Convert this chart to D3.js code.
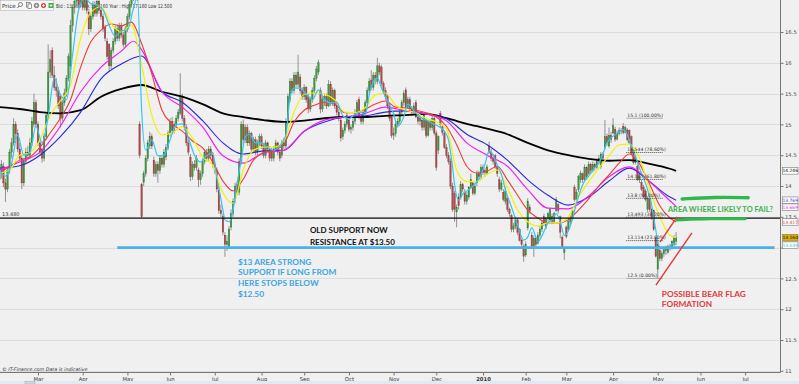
<!DOCTYPE html>
<html><head><meta charset="utf-8">
<script src="https://cdn.jsdelivr.net/npm/d3@7"></script>
<style>
html,body{margin:0;padding:0;background:#f0f0f0;}
svg{display:block;}
</style></head><body>
<svg id="c" width="799" height="384"></svg>
<script>
// ---------------- DATA ----------------
const startDate = "2009-02-03";           // first trading day shown
const monthLabels = ["Mar","Apr","May","Jun","Jul","Aug","Sep","Oct","Nov","Dec","2010","Feb","Mar","Apr","May","Jun","Jul"];
const priceTicks = [11,11.5,12,12.5,13,13.5,14,14.5,15,15.5,16,16.5];
const hiddenTickLabels = [13];            // covered by the value boxes in the original
const infoText = "Bid : 13.160  Ask : 13.160  Year : High 17.180  Low 12.500";

// daily candles [open, high, low, close]
const candles = [
[14.10,14.30,14.00,14.20],[14.20,14.42,14.12,14.35],[14.32,14.38,13.98,14.05],[14.05,14.12,13.74,13.95],[13.95,14.30,13.90,14.25],
[14.25,14.60,14.20,14.55],[14.55,14.78,14.45,14.70],[14.70,15.10,14.65,15.00],[15.00,15.05,14.75,14.85],[14.85,14.92,14.55,14.60],
[14.60,14.70,14.40,14.45],[14.45,14.50,13.95,14.05],[14.05,14.45,14.00,14.40],[14.40,14.62,14.35,14.55],[14.55,14.65,14.42,14.50],
[14.50,14.78,14.45,14.70],[14.70,15.12,14.65,15.05],[15.00,15.50,14.95,15.35],[15.35,15.40,14.95,15.00],[15.00,15.05,14.65,14.70],
[14.70,14.75,14.50,14.55],[14.60,14.62,14.38,14.45],[14.45,14.85,14.40,14.80],[14.80,15.20,14.75,15.15],[15.15,16.30,15.10,15.85],
[15.85,16.20,15.75,16.05],[16.20,16.25,15.75,15.80],[15.80,15.95,15.55,15.60],[15.60,15.75,15.45,15.55],[15.55,15.60,15.25,15.30],
[15.45,15.50,14.95,15.10],[15.10,15.40,15.05,15.35],[15.35,15.58,15.30,15.50],[15.50,15.80,15.45,15.75],[15.75,16.15,15.70,16.10],
[15.95,16.70,15.90,16.60],[16.60,16.95,16.50,16.90],[16.90,17.10,16.80,17.00],[17.00,17.35,16.95,17.20],[17.20,17.25,16.88,16.95],
[16.95,17.18,16.90,17.10],[17.10,17.15,16.85,16.90],[16.90,17.12,16.85,17.05],[17.05,17.08,16.80,16.85],[16.82,16.88,16.45,16.55],
[16.55,16.80,16.50,16.75],[16.75,17.00,16.70,16.95],[16.95,17.00,16.75,16.80],[16.80,17.05,16.75,17.00],[17.00,17.05,16.80,16.85],
[16.85,16.92,16.70,16.75],[16.75,16.80,16.50,16.55],[16.58,16.62,16.35,16.40],[16.35,16.40,16.05,16.10],[16.30,16.32,15.85,15.95],
[15.95,16.25,15.90,16.20],[16.20,16.40,16.15,16.35],[16.35,16.60,16.30,16.55],[16.55,16.62,16.35,16.40],[16.40,16.65,16.35,16.60],
[16.60,16.65,16.40,16.45],[16.45,16.50,16.25,16.30],[16.30,16.60,16.25,16.55],[16.55,16.80,16.50,16.75],[16.75,17.00,16.70,16.95],
[16.95,17.20,16.90,17.15],[17.15,17.22,17.00,17.10],[17.10,17.30,17.05,17.25],[17.25,17.30,17.00,17.05],[15.00,15.05,14.45,14.50],
[14.02,14.05,13.48,13.50],[14.06,14.25,14.00,14.20],[14.20,14.50,14.15,14.45],[14.45,14.75,14.40,14.70],[14.65,14.88,14.60,14.80],
[14.80,14.85,14.60,14.65],[14.42,14.48,14.15,14.20],[14.20,14.40,14.15,14.35],[14.35,14.40,14.05,14.25],[14.25,14.50,14.20,14.45],
[14.45,14.50,14.30,14.35],[14.35,14.60,14.30,14.55],[14.47,14.68,14.42,14.62],[14.62,14.90,14.58,14.85],[14.85,15.10,14.80,15.05],
[15.05,15.12,14.85,14.90],[14.90,15.05,14.85,15.00],[15.00,15.15,14.95,15.10],[15.10,15.25,15.05,15.20],[15.18,15.83,15.15,15.45],
[15.45,15.50,15.05,15.10],[15.10,15.15,14.90,14.95],[14.95,15.00,14.65,14.70],[14.70,14.75,14.50,14.55],[14.47,14.52,14.08,14.15],
[14.15,14.40,14.10,14.35],[14.35,14.42,14.25,14.30],[14.30,14.50,14.25,14.45],[14.26,14.30,13.98,14.10],[14.10,14.25,14.02,14.20],
[14.20,14.45,14.15,14.40],[14.40,14.60,14.35,14.55],[14.55,14.60,14.40,14.45],[14.45,14.65,14.40,14.60],[14.60,14.65,14.45,14.50],
[14.50,14.55,14.30,14.35],[14.35,14.40,14.20,14.25],[14.25,14.30,13.90,13.95],[13.93,13.98,13.55,13.60],[13.60,13.70,13.50,13.55],
[13.50,13.55,13.20,13.25],[13.20,13.25,12.85,13.05],[13.05,13.20,12.95,13.10],[13.02,13.35,12.98,13.30],[13.33,13.62,13.28,13.55],
[13.55,13.80,13.50,13.75],[13.77,14.05,13.72,14.00],[14.02,14.08,13.85,13.90],[13.90,14.45,13.85,14.40],[14.40,15.05,14.35,15.00],
[15.00,15.08,14.68,14.75],[14.75,15.00,14.70,14.95],[14.95,15.00,14.65,14.70],[14.70,14.90,14.65,14.85],[14.85,14.88,14.55,14.60],
[14.60,14.80,14.55,14.75],[14.75,14.80,14.50,14.55],[14.55,14.75,14.50,14.70],[14.70,14.85,14.65,14.80],[14.80,14.85,14.60,14.65],
[14.65,14.70,14.45,14.50],[14.50,14.75,14.45,14.70],[14.70,14.72,14.55,14.60],[14.60,14.65,14.40,14.45],[14.58,14.62,14.40,14.45],
[14.45,14.65,14.40,14.60],[14.60,14.75,14.55,14.70],[14.70,14.72,14.50,14.55],[14.55,14.60,14.40,14.45],[14.50,14.75,14.45,14.70],
[14.70,14.78,14.60,14.65],[14.65,15.10,14.60,15.05],[15.05,15.50,15.00,15.45],[15.40,15.75,15.35,15.70],[15.70,15.75,15.50,15.55],
[15.55,15.85,15.50,15.80],[15.80,15.85,15.60,15.65],[15.65,16.13,15.60,15.85],[15.77,15.82,15.50,15.55],[15.55,15.60,15.40,15.45],
[15.45,15.65,15.40,15.60],[15.60,15.62,15.35,15.40],[15.45,15.50,15.18,15.25],[15.25,15.45,15.20,15.40],[15.40,15.60,15.35,15.55],
[15.55,15.80,15.50,15.75],[15.75,15.95,15.70,15.90],[15.85,16.05,15.80,16.00],[15.55,15.60,15.18,15.25],[15.25,15.45,15.20,15.40],
[15.40,15.50,15.30,15.45],[15.45,15.50,15.25,15.30],[15.30,15.72,15.28,15.65],[15.65,15.70,15.30,15.35],[15.35,15.60,15.30,15.55],
[15.55,15.58,15.25,15.30],[15.30,15.35,15.15,15.20],[15.20,15.25,15.05,15.10],[15.07,15.12,14.72,14.78],[14.80,14.95,14.75,14.90],
[14.90,15.05,14.85,15.00],[15.00,15.20,14.95,15.15],[15.07,15.12,14.88,14.92],[14.92,15.00,14.85,14.95],[14.95,15.10,14.90,15.05],
[15.05,15.25,15.00,15.20],[15.20,15.40,15.15,15.35],[15.40,15.45,15.08,15.12],[15.12,15.15,15.00,15.05],[15.05,15.25,15.00,15.20],
[15.20,15.40,15.15,15.35],[15.35,15.60,15.30,15.55],[15.55,15.75,15.50,15.70],[15.72,15.88,15.55,15.60],[15.60,15.85,15.55,15.80],
[15.80,15.85,15.65,15.75],[15.70,16.08,15.65,15.95],[15.95,16.00,15.80,15.85],[15.93,15.97,15.62,15.67],[15.67,15.70,15.50,15.55],
[15.55,15.60,15.40,15.45],[15.45,15.50,15.25,15.30],[15.30,15.35,15.05,15.10],[15.12,15.15,14.78,14.82],[14.82,14.95,14.75,14.85],
[14.85,15.05,14.80,15.00],[15.00,15.10,14.95,15.05],[15.05,15.25,15.00,15.20],[15.20,15.40,15.15,15.35],[15.35,15.55,15.30,15.50],
[15.56,15.60,15.25,15.28],[15.28,15.45,15.25,15.40],[15.40,15.45,15.20,15.25],[15.25,15.30,15.15,15.20],[15.20,15.35,15.15,15.30],
[15.35,15.40,15.10,15.12],[15.12,15.15,15.00,15.05],[15.05,15.15,14.98,15.10],[15.07,15.10,14.90,14.95],[14.95,15.18,14.90,15.15],
[15.07,15.10,14.78,14.82],[14.82,15.08,14.80,15.05],[15.05,15.08,14.90,14.95],[14.95,15.15,14.90,15.10],[15.10,15.12,14.82,14.86],
[14.86,14.90,14.25,14.30],[14.58,14.82,14.52,14.80],[15.18,15.22,14.95,15.00],[14.96,15.00,14.82,14.87],[14.86,14.90,14.60,14.63],
[14.63,14.68,14.45,14.50],[14.50,14.55,14.35,14.40],[14.40,14.45,13.95,14.00],[14.00,14.05,13.58,13.62],[13.88,13.92,13.42,13.62],
[13.58,13.70,13.33,13.65],[13.82,13.88,13.62,13.68],[13.82,14.08,13.78,14.02],[14.02,14.05,13.90,13.95],[13.90,13.95,13.70,13.75],
[13.75,13.90,13.70,13.85],[13.82,14.00,13.78,13.98],[13.98,14.20,13.95,14.10],[14.05,14.08,13.85,13.88],[13.88,14.05,13.85,14.00],
[14.05,14.25,14.00,14.20],[14.20,14.25,14.10,14.15],[14.15,14.35,14.10,14.30],[14.30,14.35,14.18,14.22],[14.22,14.30,14.15,14.25],
[14.21,14.35,14.18,14.31],[14.65,14.72,14.52,14.55],[14.55,14.60,14.40,14.45],[14.45,14.52,14.35,14.40],[14.49,14.52,14.28,14.31],
[14.31,14.35,14.15,14.20],[14.10,14.15,13.90,13.95],[13.95,14.10,13.92,14.05],[13.90,13.95,13.75,13.78],[13.75,13.98,13.70,13.92],
[13.80,13.85,13.58,13.62],[13.62,13.65,13.50,13.55],[13.52,13.55,13.25,13.30],[13.30,13.40,13.25,13.35],[13.35,13.50,13.30,13.45],
[13.45,13.48,13.20,13.25],[13.30,13.32,13.10,13.12],[13.12,13.15,13.00,13.05],[13.02,13.05,12.77,12.86],[12.88,13.10,12.85,13.05],
[13.32,13.80,13.28,13.75],[13.65,13.70,13.55,13.60],[13.20,13.25,12.98,13.02],[13.02,13.20,12.85,13.15],[13.15,13.18,13.00,13.05],
[13.07,13.25,13.05,13.20],[13.20,13.35,13.15,13.30],[13.30,13.45,13.25,13.40],[13.50,13.55,13.35,13.40],[13.33,13.50,13.30,13.47],
[13.47,13.58,13.42,13.55],[13.45,13.65,13.42,13.62],[13.50,13.55,13.38,13.42],[13.42,13.58,13.40,13.55],[13.60,13.82,13.58,13.78],
[13.70,13.72,13.55,13.60],[13.50,13.52,13.15,13.25],[13.17,13.20,12.98,13.00],[12.92,13.00,12.80,12.97],[13.33,13.36,13.15,13.18],
[13.30,13.48,13.28,13.42],[13.42,13.52,13.38,13.48],[13.48,13.65,13.45,13.60],[13.98,14.02,13.75,13.78],[13.78,13.95,13.75,13.90],
[13.94,14.18,13.90,14.15],[14.10,14.25,14.05,14.20],[14.20,14.22,14.05,14.10],[14.10,14.35,14.08,14.30],[14.30,14.32,14.10,14.15],
[14.20,14.40,14.18,14.35],[14.35,14.38,14.20,14.25],[14.25,14.40,14.22,14.35],[14.35,14.38,14.25,14.30],[14.30,14.45,14.28,14.40],
[14.40,14.50,14.35,14.45],[14.31,14.55,14.28,14.52],[14.52,14.55,14.40,14.45],[14.63,15.07,14.60,14.80],[14.80,14.85,14.65,14.70],
[14.65,14.95,14.62,14.82],[14.82,14.88,14.70,14.75],[14.86,15.10,14.84,14.98],[14.92,14.96,14.72,14.76],[14.76,14.90,14.74,14.85],
[14.85,14.95,14.82,14.90],[14.90,14.94,14.84,14.88],[14.97,15.02,14.84,14.87],[14.87,14.98,14.85,14.95],[14.91,14.94,14.72,14.75],
[14.90,14.92,14.68,14.70],[14.80,14.82,14.50,14.53],[14.58,14.60,14.35,14.38],[14.38,14.50,14.35,14.45],[14.32,14.35,14.08,14.10],
[14.10,14.20,14.05,14.15],[14.06,14.10,13.92,13.95],[13.98,14.02,13.80,13.83],[13.92,13.95,13.75,13.78],[13.62,13.83,13.58,13.80],
[13.78,13.80,13.58,13.62],[13.62,13.65,13.45,13.50],[13.60,13.62,13.27,13.30],[13.15,13.18,12.84,12.86],[12.65,13.10,12.50,13.05],
[12.95,13.00,12.78,12.82],[12.82,12.95,12.78,12.90],[12.90,13.02,12.85,13.00],[13.00,13.03,12.88,12.95],[12.92,13.05,12.90,13.02],
[13.02,13.06,12.95,13.00],[13.00,13.12,12.97,13.10],[13.05,13.20,13.02,13.16],[13.10,13.25,13.05,13.16]
];

// moving averages: [trading-day index, price]
const maCyan = [[0,14.26],[3,14.16],[6,14.37],[9,14.83],[12,14.50],[15,14.54],[18,14.97],[21,14.70],[24,15.12],[27,15.75],[30,15.48],[33,15.40],[36,16.13],[39,16.86],[42,17.05],[45,16.96],[48,16.94],[51,16.86],[54,16.61],[57,16.43],[60,16.52],[63,16.53],[66,16.89],[68,17.07],[70,15.23],[72,14.58],[75,14.75],[78,14.49],[81,14.50],[84,14.75],[87,14.99],[90,15.01],[93,14.78],[96,14.50],[99,14.39],[102,14.49],[105,14.54],[107,14.13],[108,13.97],[110,13.61],[111,13.45],[113,13.42],[115,13.61],[117,14.05],[119,14.42],[121,14.80],[123,14.84],[126,14.70],[129,14.70],[132,14.62],[135,14.58],[138,14.65],[141,14.83],[143,15.43],[145,15.59],[148,15.59],[151,15.49],[154,15.40],[157,15.56],[160,15.40],[163,15.35],[166,15.36],[169,15.14],[172,15.09],[175,15.17],[178,15.20],[180,15.15],[181,15.28],[182,15.48],[184,15.69],[186,15.75],[188,15.59],[191,15.38],[194,15.17],[196,14.97],[199,15.12],[201,15.33],[204,15.22],[207,15.12],[210,15.07],[213,15.02],[216,14.97],[219,14.89],[221,14.75],[222,14.55],[223,14.31],[224,14.02],[226,13.77],[228,13.87],[231,13.94],[234,14.03],[237,14.18],[239,14.36],[241,14.57],[243,14.50],[245,14.34],[247,14.19],[249,13.94],[252,13.66],[255,13.37],[258,13.12],[260,13.17],[262,13.32],[264,13.17],[265,13.09],[267,13.19],[270,13.40],[272,13.45],[274,13.55],[276,13.42],[278,13.20],[280,13.27],[282,13.46],[284,13.72],[286,13.93],[288,14.08],[290,14.16],[292,14.26],[295,14.37],[297,14.52],[299,14.70],[301,14.78],[303,14.83],[305,14.88],[307,14.91],[309,14.83],[311,14.65],[313,14.49],[315,14.29],[317,14.13],[319,13.94],[321,13.69],[322,13.48],[323,13.29],[324,13.09],[326,12.98],[328,12.98],[330,13.03],[332,13.07],[333,13.039]];
const maYellow = [[0,14.21],[5,14.26],[10,14.50],[15,14.54],[20,14.75],[25,15.15],[30,15.38],[35,15.64],[40,16.40],[45,16.82],[50,16.91],[55,16.63],[60,16.50],[65,16.61],[70,15.96],[75,15.15],[80,14.83],[85,14.86],[90,14.96],[95,14.78],[100,14.47],[105,14.34],[110,13.89],[115,13.72],[120,14.26],[125,14.58],[130,14.63],[135,14.63],[140,14.73],[145,15.20],[150,15.49],[155,15.51],[160,15.49],[165,15.40],[170,15.20],[175,15.19],[180,15.27],[185,15.48],[190,15.51],[195,15.31],[200,15.23],[205,15.19],[210,15.10],[215,15.04],[220,14.93],[225,14.26],[230,14.07],[235,14.07],[240,14.19],[245,14.26],[250,13.97],[255,13.61],[260,13.42],[265,13.35],[270,13.40],[275,13.40],[280,13.50],[285,13.82],[290,14.07],[295,14.29],[300,14.49],[305,14.67],[310,14.68],[315,14.45],[320,13.94],[325,13.50],[330,13.20],[333,13.160]];
const maRed = [[0,14.23],[5,14.31],[10,14.42],[15,14.47],[20,14.63],[25,14.86],[30,15.10],[35,15.40],[40,15.93],[45,16.34],[50,16.53],[55,16.63],[60,16.60],[65,16.66],[70,16.31],[75,15.82],[80,15.23],[85,15.01],[90,14.89],[95,14.73],[100,14.62],[105,14.39],[110,14.08],[115,13.92],[120,14.11],[125,14.42],[130,14.54],[135,14.58],[140,14.68],[145,15.04],[150,15.23],[155,15.31],[160,15.36],[165,15.33],[170,15.19],[175,15.19],[180,15.25],[185,15.33],[190,15.38],[195,15.28],[200,15.27],[205,15.23],[210,15.19],[215,15.12],[220,14.97],[225,14.67],[230,14.32],[235,14.21],[240,14.24],[245,14.32],[250,14.10],[255,13.85],[260,13.61],[265,13.48],[270,13.40],[275,13.40],[280,13.45],[285,13.61],[290,13.79],[295,14.00],[300,14.18],[305,14.37],[310,14.52],[315,14.36],[320,14.03],[325,13.68],[330,13.48],[333,13.417]];
const maMagenta = [[0,14.26],[10,14.39],[20,14.55],[30,14.97],[40,15.53],[50,15.93],[60,16.19],[66,16.35],[70,16.21],[80,15.53],[90,15.28],[100,14.96],[110,14.49],[120,14.37],[130,14.54],[140,14.58],[150,14.89],[160,15.07],[170,15.12],[180,15.18],[190,15.28],[200,15.22],[210,15.17],[220,15.06],[230,14.70],[240,14.50],[250,14.32],[260,13.94],[270,13.64],[280,13.63],[290,13.84],[300,14.15],[310,14.31],[320,14.07],[330,13.76],[333,13.669]];
const maBlue = [[0,14.29],[10,14.33],[20,14.50],[30,14.80],[40,15.20],[50,15.74],[60,15.98],[70,16.11],[80,15.53],[90,15.36],[100,15.06],[110,14.70],[120,14.52],[130,14.57],[140,14.58],[150,14.89],[160,15.04],[170,15.12],[180,15.14],[190,15.20],[200,15.22],[210,15.17],[220,15.09],[230,14.84],[240,14.67],[250,14.42],[260,14.10],[270,13.85],[280,13.69],[290,13.82],[300,14.08],[310,14.29],[320,14.07],[330,13.82],[333,13.769]];
const maBlack = [[0,15.28],[10,15.25],[20,15.20],[30,15.18],[40,15.23],[50,15.45],[60,15.575],[70,15.64],[80,15.53],[90,15.45],[100,15.33],[110,15.18],[120,15.12],[130,15.07],[140,15.04],[150,15.06],[160,15.10],[170,15.12],[180,15.12],[190,15.14],[200,15.15],[210,15.17],[220,15.10],[230,15.01],[240,14.93],[250,14.84],[260,14.70],[270,14.58],[280,14.50],[290,14.44],[300,14.41],[310,14.42],[320,14.36],[330,14.28],[333,14.246]];

// horizontal levels and Fibonacci retracement
const resistanceLevel = 13.48;
const supportLevel = 13.0;
const supportFromIdx = 58, supportToIdx = 381.5;
const fibHigh = 15.1, fibLow = 12.5;
const fibRatios = [1, 0.786, 0.618, 0.5, 0.382, 0.236, 0];
const fibFromIdx = 308.5, fibToIdx = 326.5;

// annotations (anchored in [day index, price])
const blueNote = ["$13 AREA STRONG","SUPPORT IF LONG FROM","HERE STOPS BELOW","$12.50"];
const blackNote = ["OLD SUPPORT NOW","RESISTANCE AT $13.50"];
const greenNote = "AREA WHERE LIKELY TO FAIL?";
const redNote = ["POSSIBLE BEAR FLAG","FORMATION"];
const flagUpper = [[325.1,13.09],[333.5,13.50]];
const flagLower = [[323.1,12.39],[340.8,13.24]];
const greenStrokeTop = [[336,13.79],[352,13.82],[368.5,13.81]];
const greenStrokeBottom = [[333.5,13.45],[350,13.47],[367,13.47]];

// ---------------- DRAWING ----------------
const svg = d3.select("#c");
const W = 799, H = 384, plotR = 780, plotB = 372.5;
const x = d3.scaleLinear().domain([0, 384]).range([-0.6, 779.7]);
const y = d3.scaleLinear().domain([11, 16.5]).range([370.8, 32]);

// trading-day calendar
const days = [];
{ let d = new Date(startDate + "T00:00:00Z");
  while (days.length < 385) { const wd = d.getUTCDay(); if (wd !== 0 && wd !== 6) days.push(new Date(d)); d = new Date(d.getTime() + 86400000); } }
const monthTicks = [];
days.forEach((d, i) => { if (i > 0 && d.getUTCMonth() !== days[i-1].getUTCMonth()) monthTicks.push(i); });

svg.append("rect").attr("width", W).attr("height", H).attr("fill", "#f0f0f0");
svg.append("defs").append("clipPath").attr("id", "pc").append("rect").attr("x", 0).attr("y", 0).attr("width", plotR).attr("height", plotB);

// grid
svg.append("g").selectAll("line").data(priceTicks).join("line")
  .attr("x1", 0).attr("x2", plotR).attr("y1", d => Math.round(y(d)) + 0.5).attr("y2", d => Math.round(y(d)) + 0.5)
  .attr("stroke", "#dcdcdc").attr("stroke-width", 1);

// info line (under candles)
svg.append("text").attr("x", 56).attr("y", 8).attr("font-family", "DejaVu Sans").attr("font-size", 5.6)
  .attr("fill", "#333").attr("textLength", 116).attr("lengthAdjust", "spacingAndGlyphs").text(infoText);

const plot = svg.append("g").attr("clip-path", "url(#pc)");

// candles
const cw = 1.5;
const cg = plot.append("g");
cg.selectAll("line").data(candles).join("line")
  .attr("x1", (d, i) => x(i)).attr("x2", (d, i) => x(i))
  .attr("y1", d => y(d[1])).attr("y2", d => y(d[2]))
  .attr("stroke", "#6a6a6a").attr("stroke-width", 0.7);
cg.selectAll("rect").data(candles).join("rect")
  .attr("x", (d, i) => x(i) - cw / 2).attr("width", cw)
  .attr("y", d => y(Math.max(d[0], d[3])))
  .attr("height", d => Math.max(0.8, Math.abs(y(d[0]) - y(d[3]))))
  .attr("fill", d => Math.abs(d[3] - d[0]) < 0.025 ? "#c8c8c8" : (d[3] > d[0] ? "#3d9a3d" : "#b04a4a"))
  .attr("stroke", d => d[3] > d[0] ? "#2e6e2e" : "#7a3535").attr("stroke-width", 0.3);

// moving averages
const line = d3.line().x(d => x(d[0])).y(d => y(d[1])).curve(d3.curveMonotoneX);
const series = [
  {data: maBlack, color: "#000000", w: 1.8, txt: "#000", bg: "#ffffff"},
  {data: maBlue, color: "#2828d8", w: 1.1, txt: "#3030e0", bg: "#ffffff"},
  {data: maMagenta, color: "#f020f0", w: 1.2, txt: "#e020e0", bg: "#ffffff"},
  {data: maRed, color: "#f03a3a", w: 1.1, txt: "#e03030", bg: "#ffffff"},
  {data: maYellow, color: "#f2f200", w: 1.2, txt: "#000", bg: "#e0b000"},
  {data: maCyan, color: "#38c4f0", w: 1.2, txt: "#30b8e8", bg: "#ffffff"}
];
plot.append("g").selectAll("path").data(series).join("path")
  .attr("d", s => line(s.data)).attr("fill", "none")
  .attr("stroke", s => s.color).attr("stroke-width", s => s.w);

// horizontal levels
plot.append("line").attr("x1", 0).attr("x2", plotR).attr("y1", y(resistanceLevel)).attr("y2", y(resistanceLevel))
  .attr("stroke", "#111").attr("stroke-width", 1.2);
svg.append("text").attr("x", 2).attr("y", y(resistanceLevel) - 2).attr("font-family", "DejaVu Sans").attr("font-size", 5)
  .attr("fill", "#333").text(d3.format(".3f")(resistanceLevel));
plot.append("line").attr("x1", x(supportFromIdx)).attr("x2", x(supportToIdx)).attr("y1", y(supportLevel)).attr("y2", y(supportLevel))
  .attr("stroke", "#4ab2e6").attr("stroke-width", 2.6);

// Fibonacci
const fib = fibRatios.map(r => ({r, v: fibLow + r * (fibHigh - fibLow)}));
const fg = plot.append("g");
fg.selectAll("line").data(fib).join("line")
  .attr("x1", x(fibFromIdx)).attr("x2", x(fibToIdx)).attr("y1", d => y(d.v)).attr("y2", d => y(d.v))
  .attr("stroke", d => (d.r === 1 || d.r === 0) ? "#999" : "#222").attr("stroke-width", 0.8)
  .attr("stroke-dasharray", d => (d.r === 1 || d.r === 0) ? null : "1,1");
fg.selectAll("text").data(fib).join("text")
  .attr("x", x(fibFromIdx) + 1).attr("y", d => y(d.v) - 1.2)
  .attr("font-family", "DejaVu Sans").attr("font-size", 4.6).attr("fill", "#333")
  .text(d => d3.format(".3~f")(d.v) + " (" + d3.format(".2f")(d.r * 100) + "%)");

// annotations
const straight = d3.line().x(d => x(d[0])).y(d => y(d[1]));
const smooth = d3.line().x(d => x(d[0])).y(d => y(d[1])).curve(d3.curveBasis);
svg.append("path").attr("d", straight(flagUpper)).attr("stroke", "#e83535").attr("stroke-width", 1.4).attr("fill", "none");
svg.append("path").attr("d", straight(flagLower)).attr("stroke", "#e83535").attr("stroke-width", 1.4).attr("fill", "none");
svg.append("path").attr("d", smooth(greenStrokeTop)).attr("stroke", "#2fb84c").attr("stroke-width", 3.4).attr("stroke-linecap", "round").attr("fill", "none");
svg.append("path").attr("d", smooth(greenStrokeBottom)).attr("stroke", "#2fb84c").attr("stroke-width", 3).attr("stroke-linecap", "round").attr("fill", "none");

const noteFont = "Lato, 'Open Sans', sans-serif";
svg.append("g").selectAll("text").data(blueNote).join("text")
  .attr("x", x(117.4)).attr("y", (d, i) => y(12.72) + i * 10.6)
  .attr("font-family", noteFont).attr("font-weight", "bold").attr("font-size", 8.3).attr("fill", "#3aa6e2").text(d => d);
svg.append("g").selectAll("text").data(blackNote).join("text")
  .attr("x", x(152.8)).attr("y", (d, i) => y(13.23) + i * 11.5)
  .attr("font-family", noteFont).attr("font-weight", "bold").attr("font-size", 8).attr("fill", "#111").text(d => d);
svg.append("text").attr("x", x(329)).attr("y", y(13.5) - 4.5)
  .attr("font-family", noteFont).attr("font-weight", "bold").attr("font-size", 7.4).attr("fill", "#3ab04c")
  .attr("textLength", 105).attr("lengthAdjust", "spacingAndGlyphs").text(greenNote);
svg.append("g").selectAll("text").data(redNote).join("text")
  .attr("x", x(326)).attr("y", (d, i) => y(12.2) + i * 10.5)
  .attr("font-family", noteFont).attr("font-weight", "bold").attr("font-size", 8.3).attr("fill", "#e23a3a").text(d => d);

// right axis
const ra = svg.append("g").attr("transform", `translate(${plotR + 0.5},0)`)
  .call(d3.axisRight(y).tickValues(priceTicks).tickSize(3)
    .tickFormat(d => hiddenTickLabels.includes(d) ? "" : d3.format("~g")(d)));
ra.select(".domain").attr("d", `M0,0V${plotB}`).attr("stroke", "#777");
ra.selectAll(".tick line").attr("stroke", "#777");
ra.selectAll(".tick text").attr("font-family", "DejaVu Sans").attr("font-size", 5.3).attr("fill", "#444").attr("x", 4.5);

// value boxes (last value of each average), nudged apart so they do not overlap
const boxH = 6.6;
const boxes = series.map(s => ({s, v: s.data[s.data.length - 1][1], cy: y(s.data[s.data.length - 1][1])}))
  .sort((a, b) => a.cy - b.cy);
for (let k = 1; k < boxes.length; k++) if (boxes[k].cy - boxes[k-1].cy < boxH + 0.4) boxes[k].cy = boxes[k-1].cy + boxH + 0.4;
const vb = svg.append("g").selectAll("g").data(boxes).join("g")
  .attr("transform", b => `translate(782.5,${b.cy})`);
vb.append("rect").attr("x", 0).attr("y", -boxH / 2).attr("width", 15.5).attr("height", boxH)
  .attr("fill", b => b.s.bg).attr("stroke", "#777").attr("stroke-width", 0.6);
vb.append("text").attr("x", 7.75).attr("y", 1.6).attr("text-anchor", "middle")
  .attr("font-family", "DejaVu Sans").attr("font-size", 4.4).attr("fill", b => b.s.txt)
  .text(b => d3.format(".3f")(b.v));

// bottom axis
const ba = svg.append("g").attr("transform", `translate(0,${plotB})`)
  .call(d3.axisBottom(x).tickValues(monthTicks.slice(0, monthLabels.length)).tickSize(3)
    .tickFormat((d, i) => monthLabels[i]));
ba.select(".domain").attr("d", `M0,0H${plotR + 0.5}`).attr("stroke", "#777");
ba.selectAll(".tick line").attr("stroke", "#777");
ba.selectAll(".tick text").attr("font-family", "DejaVu Sans").attr("font-size", 5.3).attr("fill", "#333").attr("y", 4.5)
  .attr("font-weight", (d, i) => monthLabels[i] === "2010" ? "bold" : null);

// copyright
svg.append("text").attr("x", 2).attr("y", 370.5).attr("font-family", "DejaVu Sans").attr("font-style", "italic")
  .attr("font-size", 4.8).attr("fill", "#333").text("© IT-Finance.com  Data is indicative");

// bottom scroll band
svg.append("rect").attr("x", 0).attr("y", 381).attr("width", W).attr("height", 3).attr("fill", "#e2e9f0");
svg.append("rect").attr("x", 25).attr("y", 381.5).attr("width", 10).attr("height", 2.5).attr("fill", "#d3dbe3").attr("stroke", "#9aa4ae").attr("stroke-width", 0.5);

// toolbar
const tb = svg.append("g");
tb.append("rect").attr("x", 0.5).attr("y", 0.5).attr("width", 53).attr("height", 10).attr("fill", "#f7f7f7").attr("stroke", "#b8b8b8").attr("stroke-width", 0.6);
tb.append("text").attr("x", 2).attr("y", 7.5).attr("font-family", "DejaVu Sans").attr("font-size", 5.6).attr("fill", "#222").text("Price");
tb.append("circle").attr("cx", 20.5).attr("cy", 4.5).attr("r", 2).attr("fill", "none").attr("stroke", "#555").attr("stroke-width", 0.7);
tb.append("line").attr("x1", 19).attr("y1", 6).attr("x2", 17.5).attr("y2", 8).attr("stroke", "#555").attr("stroke-width", 0.9);
tb.append("rect").attr("x", 26.5).attr("y", 2.5).attr("width", 3.5).attr("height", 4.5).attr("fill", "#fff").attr("stroke", "#555").attr("stroke-width", 0.6);
tb.append("rect").attr("x", 28).attr("y", 4).attr("width", 3.5).attr("height", 4.5).attr("fill", "#fff").attr("stroke", "#555").attr("stroke-width", 0.6);
tb.append("circle").attr("cx", 36.5).attr("cy", 5.5).attr("r", 2.3).attr("fill", "#999").attr("stroke", "#444").attr("stroke-width", 0.5);
tb.append("circle").attr("cx", 36.5).attr("cy", 5.5).attr("r", 0.9).attr("fill", "#f7f7f7");
tb.append("circle").attr("cx", 43.5).attr("cy", 5.5).attr("r", 2.5).attr("fill", "#e03a3a");
tb.append("path").attr("d", "M42,5.5H45M43.5,4V7").attr("stroke", "#fff").attr("stroke-width", 0.8);
tb.append("rect").attr("x", 48.5).attr("y", 3).attr("width", 5).attr("height", 5).attr("fill", "#3ab04a");
tb.append("path").attr("d", "M49.5,5.5H52.5M51,4V7").attr("stroke", "#fff").attr("stroke-width", 0.8);
</script>
</body></html>
